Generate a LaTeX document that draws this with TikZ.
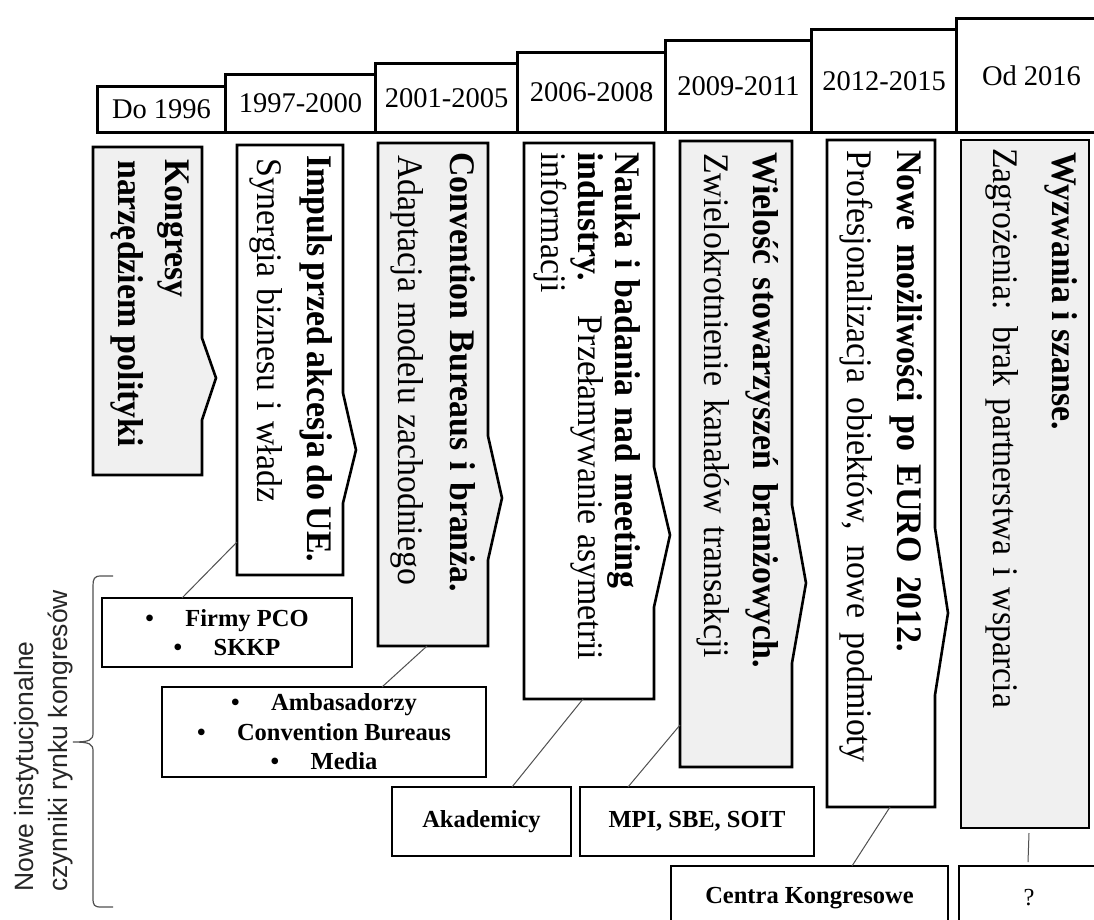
\documentclass[tikz,border=0pt]{standalone}
\usepackage{fontspec}
\setmainfont{Liberation Serif}
\newfontfamily\labelsans{Liberation Sans}
\newfontfamily\narrowserif[FakeStretch=0.94]{Liberation Serif}
\usetikzlibrary{calc}

\definecolor{boxgray}{RGB}{240,240,240}
\definecolor{linkgray}{RGB}{80,80,80}

\tikzset{
  yearbox/.style={draw=black, line width=3pt, fill=white, anchor=north west,
    inner sep=0pt, font=\fontsize{28.5}{34}\selectfont},
  frame/.style={draw=black, line width=2.6pt, line join=miter},
  body/.style={inner sep=0pt, outer sep=0pt, anchor=north west},
  vtxt/.style={rotate=-90, anchor=base west, inner sep=0pt,
    font=\narrowserif\fontsize{36}{40}\selectfont},
  vbold/.style={vtxt, font=\narrowserif\fontsize{36}{40}\selectfont\bfseries},
  actor/.style={draw=black, line width=1.6pt, fill=white, anchor=north west,
    inner sep=0pt, outer sep=0pt, align=center,
    font=\fontsize{24.5}{29.5}\selectfont\bfseries},
  link/.style={draw=linkgray, line width=1pt},
  sidelabel/.style={rotate=90, anchor=base west, inner sep=0pt, text=black!85,
    font=\labelsans\fontsize{26.5}{32}\selectfont},
}

% outline of a period box whose right side carries an arrow point
\newcommand\notchframe[6]{%
  \draw[frame, fill=#2] (#1.north west) -- (#1.north east)
    -- (#1.north east |- 0,#3) -- (#4,#5) -- (#1.north east |- 0,#6)
    -- (#1.south east) -- (#1.south west) -- cycle;}
\newcommand\bul{\makebox[40pt][l]{\textbullet}}

\begin{document}
\begin{tikzpicture}[x=1pt, y=-1pt]
\useasboundingbox (0,0) rectangle (1094,920);
\fill[white] (0,0) rectangle (1094,920);

% ---- time line -------------------------------------------------------
\node[yearbox, minimum width=128pt, minimum height=46pt]  (y1) at (96,85)  {Do 1996};
\node[yearbox, minimum width=150pt, minimum height=58pt]  (y2) at (224,73) {1997-2000};
\node[yearbox, minimum width=142pt, minimum height=69pt]  (y3) at (374,62) {2001-2005};
\node[yearbox, minimum width=148pt, minimum height=80pt]  (y4) at (516,51) {2006-2008};
\node[yearbox, minimum width=146pt, minimum height=92pt]  (y5) at (664,39) {2009-2011};
\node[yearbox, minimum width=145pt, minimum height=103pt] (y6) at (810,28) {2012-2015};
\node[yearbox, minimum width=150pt, minimum height=114pt] (y7) at (955,17) {Od 2016};

% ---- period boxes ----------------------------------------------------
\node[body, minimum width=109pt, minimum height=328pt] (b1) at (93,147)  {};
\node[body, minimum width=106pt, minimum height=430pt] (b2) at (237,145) {};
\node[body, minimum width=110pt, minimum height=503pt] (b3) at (378,143) {};
\node[body, minimum width=130pt, minimum height=556pt] (b4) at (524,143) {};
\node[body, minimum width=112pt, minimum height=626pt] (b5) at (680,141) {};
\node[body, minimum width=108pt, minimum height=667pt] (b6) at (827,140) {};
\node[body, minimum width=128pt, minimum height=688pt] (b7) at (961,140) {};

\notchframe{b1}{boxgray}{338}{216}{378}{420}
\notchframe{b2}{white}{393}{356}{450}{503}
\notchframe{b3}{boxgray}{436}{502}{498}{560}
\notchframe{b4}{white}{467}{670}{535}{607}
\notchframe{b5}{boxgray}{505}{806}{583}{663}
\notchframe{b6}{white}{528}{948}{613}{695}
\draw[frame, fill=boxgray] (b7.north west) rectangle (b7.south east);

% ---- period texts (read from top to bottom) -------------------------
\node[vbold] (t1a) at (165,159) {Kongresy};
\node[vbold] (t1b) at (118,160) {narzędziem polityki};

\node[vbold] (t2a) at (307,155) {\makebox[407pt][s]{Impuls przed akcesja do UE.}};
\node[vtxt]  (t2b) at (257,158) {\makebox[344pt][s]{Synergia biznesu i władz}};

\node[vbold] (t3a) at (450,152) {\makebox[440pt][s]{Convention Bureaus i branża.}};
\node[vtxt]  (t3b) at (398,155) {\makebox[430pt][s]{Adaptacja modelu zachodniego}};

\node[vbold] (t4a) at (615,152) {\makebox[436pt][s]{Nauka i badania nad meeting}};
\node[vtxt]  (t4b) at (578,152) {\makebox[508pt][s]{\bfseries industry.\hspace{20pt} \mdseries Przełamywanie asymetrii}};
\node[vtxt]  (t4c) at (541,152) {informacji};

\node[vbold] (t5a) at (753,152) {\makebox[516pt][s]{Wielość stowarzyszeń branżowych.}};
\node[vtxt]  (t5b) at (704,153) {\makebox[505pt][s]{Zwielokrotnienie kanałów transakcji}};

\node[vbold] (t6a) at (897,150) {\makebox[502pt][s]{Nowe możliwości po EURO 2012.}};
\node[vtxt]  (t6b) at (847,150) {\makebox[612pt][s]{Profesjonalizacja obiektów, nowe podmioty}};

\node[vbold] (t7a) at (1052,152) {Wyzwania i szanse.};
\node[vtxt]  (t7b) at (993,148) {\makebox[560pt][s]{Zagrożenia: brak partnerstwa i wsparcia}};

% ---- new institutional actors ----------------------------------------
\node[actor, minimum width=250pt, minimum height=69pt] (a1) at (102,598)
  {\bul Firmy PCO\\ \bul SKKP};
\node[actor, minimum width=324pt, minimum height=90pt] (a2) at (162,687)
  {\bul Ambasadorzy\\ \bul Convention Bureaus\\ \bul Media};
\node[actor, minimum width=179pt, minimum height=69pt] (a3) at (392,787) {Akademicy};
\node[actor, minimum width=234pt, minimum height=69pt] (a4) at (580,787) {MPI, SBE, SOIT};
\node[actor, minimum width=277pt, minimum height=64pt] (a5) at (671,866) {Centra Kongresowe};
\node[actor, minimum width=140pt, minimum height=64pt, font=\fontsize{24.5}{29.5}\selectfont] (a6) at (959,866) {?};

% ---- links from periods to actors -----------------------------------
\draw[link] ($(b2.south west)+(0,-33)$) -- ($(a1.north west)+(80,0)$);
\draw[link] ($(b3.south west)+(49,0)$)  -- ($(a2.north west)+(220,0)$);
\draw[link] ($(b4.south west)+(59,0)$)  -- ($(a3.north west)+(120,0)$);
\draw[link] ($(b5.south west)+(0,-42)$) -- ($(a4.north west)+(48,0)$);
\draw[link] ($(b6.south west)+(63,0)$)  -- ($(a5.north west)+(181,0)$);
\draw[link] ($(b7.south west)+(68,5)$)  -- ($(a6.north west)+(69,-4)$);

% ---- brace and its label --------------------------------------------
\draw[link, line width=1.2pt] (113,576) -- (101,576) .. controls (94,576) and (93,579) .. (93,586)
  -- (93,733) .. controls (93,740) and (90,742) .. (73,742)
  .. controls (90,742) and (93,744) .. (93,751)
  -- (93,898) .. controls (93,905) and (94,907) .. (101,907) -- (113,907);
\node[sidelabel] (lab1) at (33,892) {Nowe instytucjonalne};
\node[sidelabel] (lab2) at (67,892) {czynniki rynku kongresów};
\end{tikzpicture}
\end{document}
